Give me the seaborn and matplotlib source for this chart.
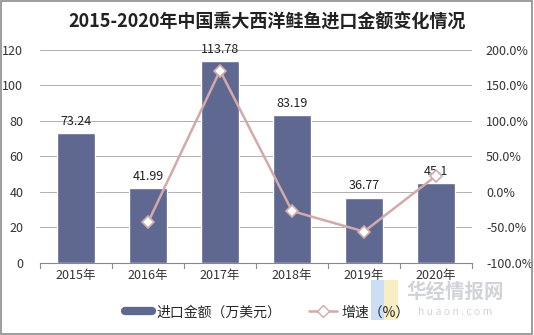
import matplotlib
matplotlib.use("Agg")
import matplotlib.pyplot as plt
import seaborn as sns
import pandas as pd
from matplotlib.lines import Line2D
from matplotlib.patches import Rectangle

years = ["2015年", "2016年", "2017年", "2018年", "2019年", "2020年"]
amount = [73.24, 41.99, 113.78, 83.19, 36.77, 45.1]
growth = [None, -42.67, 170.97, -26.88, -55.80, 22.65]
left_ticks = [0, 20, 40, 60, 80, 100, 120]
right_ticks = [-100, -50, 0, 50, 100, 150, 200]

sns.set_style("white")
plt.rcParams['font.family'] = ['Noto Sans CJK SC', 'DejaVu Sans']

bar_color = "#5E6891"
line_color = "#D3A9AA"

fig = plt.figure(figsize=(5.34, 3.35), dpi=100)
ax = fig.add_axes([0.075, 0.215, 0.809, 0.636])

df = pd.DataFrame({"year": years, "amount": amount, "growth": growth})
sns.barplot(data=df, x="year", y="amount", color=bar_color, width=0.52,
            saturation=1, ax=ax)
ax.set_ylim(0, 120)
ax.set_yticks(left_ticks)
ax.set_xlim(-0.5, 5.5)
ax.yaxis.grid(True, color="#B0B0B0", linewidth=0.7)
ax.set_axisbelow(True)
for s in ["top", "right", "left"]:
    ax.spines[s].set_visible(False)
ax.spines["bottom"].set_color("#888888")
ax.spines["bottom"].set_linewidth(0.8)
ax.set_xlabel("")
ax.set_ylabel("")
ax.tick_params(axis="y", length=0, labelsize=9, colors="#333333", pad=12)
ax.tick_params(axis="x", length=0, labelsize=9, colors="#333333", pad=4)
for b in range(0, 7):
    ax.plot([b - 0.5, b - 0.5], [0, -3], color="#888888", lw=0.8, clip_on=False)

for i, v in enumerate(amount):
    ax.text(i, v + 3, f"{v:g}", ha="center", va="bottom", fontsize=9, color="#222222")

ax2 = ax.twinx()
sns.lineplot(data=df.dropna(), x="year", y="growth", color=line_color, lw=1.8,
             marker="D", markersize=6, markerfacecolor="white",
             markeredgecolor=line_color, markeredgewidth=1.2, ax=ax2, sort=False)
ax2.set_ylim(-100, 200)
ax2.set_yticks(right_ticks)
ax2.set_yticklabels([f"{t:.1f}%" for t in right_ticks])
for s in ["top", "right", "left", "bottom"]:
    ax2.spines[s].set_visible(False)
ax2.tick_params(axis="y", length=0, labelsize=9, colors="#333333", pad=10)
ax2.set_ylabel("")
ax2.grid(False)
ax.set_xlim(-0.5, 5.5)

fig.text(0.5, 0.934, "2015-2020年中国熏大西洋鲑鱼进口金额变化情况", ha="center",
         va="center", fontsize=13, fontweight="bold", color="#222222")

handles = [Line2D([0], [0], color=bar_color, lw=6),
           Line2D([0], [0], color=line_color, lw=1.8, marker="D", markersize=6,
                  markerfacecolor="white", markeredgecolor=line_color)]
fig.legend(handles, ["进口金额（万美元）", "增速（%）"], loc="center",
           bbox_to_anchor=(0.5, 0.068), ncol=2, frameon=False, fontsize=10,
           handlelength=2.0, handletextpad=0.3, columnspacing=2.0)

# watermark
fig.patches.append(Rectangle((0.695, 0.045), 0.025, 0.12, transform=fig.transFigure,
                             facecolor="#BFD6F2", edgecolor="none", alpha=0.8))
fig.patches.append(Rectangle((0.72, 0.045), 0.025, 0.12, transform=fig.transFigure,
                             facecolor="#F6EBB5", edgecolor="none", alpha=0.8))
fig.text(0.852, 0.128, "华经情报网", ha="center", va="center", fontsize=14,
         color="#D0D4D8", fontweight="bold")
fig.text(0.852, 0.068, "h u a o n . c o m", ha="center", va="center", fontsize=7.5,
         color="#D0D4D8")

fig.patches.append(Rectangle((0.002, 0.003), 0.994, 0.994, transform=fig.transFigure,
                             fill=False, edgecolor="#8C8C8C", lw=1.2))

fig.savefig("out.png", dpi=100)
